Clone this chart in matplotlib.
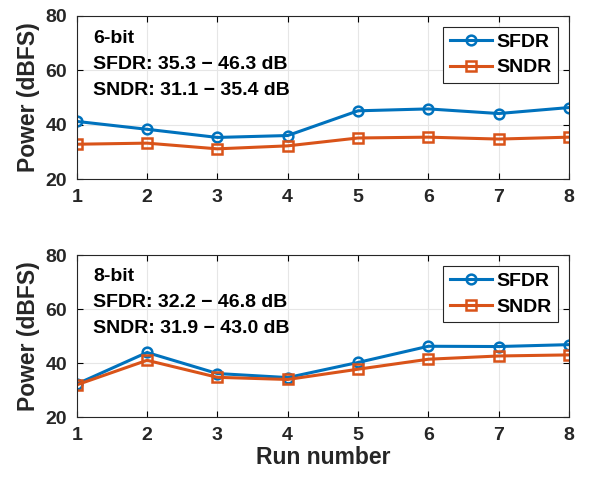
import numpy as np
import matplotlib
matplotlib.use('Agg')
import matplotlib.pyplot as plt

plt.rcParams['font.family'] = ['Liberation Sans', 'DejaVu Sans']
plt.rcParams['font.weight'] = 'bold'
plt.rcParams['axes.labelweight'] = 'bold'

runs = [1, 2, 3, 4, 5, 6, 7, 8]
sfdr_6bit = [41.2, 38.3, 35.3, 36.0, 45.1, 45.8, 44.1, 46.3]
sndr_6bit = [32.8, 33.2, 31.1, 32.2, 35.1, 35.4, 34.7, 35.4]
sfdr_8bit = [32.2, 43.9, 36.1, 34.6, 40.2, 46.2, 46.1, 46.8]
sndr_8bit = [31.9, 41.0, 34.7, 33.9, 37.7, 41.4, 42.6, 43.0]
labels_6bit = ["6-bit", "SFDR: 35.3 \u2212 46.3 dB", "SNDR: 31.1 \u2212 35.4 dB"]
labels_8bit = ["8-bit", "SFDR: 32.2 \u2212 46.8 dB", "SNDR: 31.9 \u2212 43.0 dB"]

blue = '#0072BD'
orange = '#D95319'

fig = plt.figure(figsize=(6.1, 4.8), dpi=100)
ax1 = fig.add_axes([76.7/610, 1-179/480, (569-76.7)/610, (179-16)/480])
ax2 = fig.add_axes([76.7/610, 1-417/480, (569-76.7)/610, (417-255)/480])

for ax, sfdr, sndr, txt in [(ax1, sfdr_6bit, sndr_6bit, labels_6bit),
                            (ax2, sfdr_8bit, sndr_8bit, labels_8bit)]:
    ax.plot(runs, sfdr, '-o', color=blue, lw=2.2, ms=7, mfc='none', mew=1.8, label='SFDR')
    ax.plot(runs, sndr, '-s', color=orange, lw=2.2, ms=6.5, mfc='none', mew=1.8, label='SNDR')
    ax.set_xlim(1, 8)
    ax.set_ylim(20, 80)
    ax.set_yticks([20, 40, 60, 80])
    ax.set_xticks(runs)
    ax.grid(True, color='#e6e6e6', lw=0.8)
    ax.set_axisbelow(True)
    ax.tick_params(direction='in', top=True, right=True, labelsize=14,
                   labelcolor='#262626', length=4, width=0.8, pad=7)
    for s in ax.spines.values():
        s.set_linewidth(0.8)
        s.set_color('#262626')
    ax.set_ylabel('Power (dBFS)', fontsize=16.5, color='#262626', labelpad=4)
    for t, yy in zip(txt, [0.865, 0.705, 0.546]):
        ax.text(0.034, yy, t, transform=ax.transAxes, fontsize=14, va='center')
    leg = ax.legend(loc='upper right', fontsize=14, fancybox=False, edgecolor='#262626',
                    framealpha=1, handlelength=2.2, handletextpad=0.2, borderpad=0.35,
                    labelspacing=0.4, borderaxespad=0.55)
    leg.get_frame().set_linewidth(0.8)

ax2.set_xlabel('Run number', fontsize=16.5, color='#262626', labelpad=2)

fig.savefig('out.png', dpi=100)
